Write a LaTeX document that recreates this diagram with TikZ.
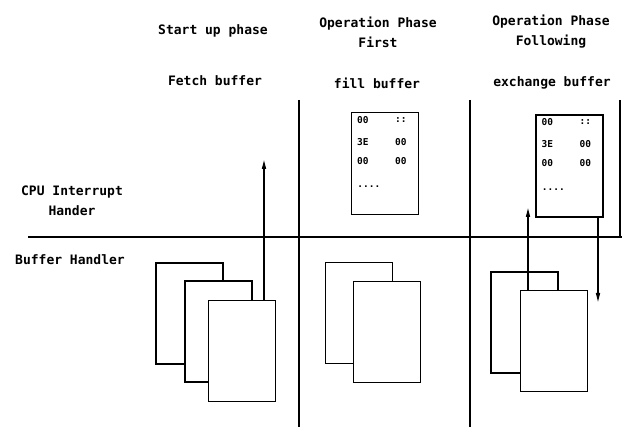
\documentclass[tikz,border=0pt]{standalone}
\usepackage{fontspec}
\newfontfamily\plotfont{DejaVu Sans Mono}
\usetikzlibrary{arrows.meta,positioning,calc}

\begin{document}
\begin{tikzpicture}[x=1pt,y=-1pt,
  heading/.style={font=\plotfont\bfseries\fontsize{13}{20}\selectfont, inner sep=0pt, align=center},
  buffer/.style={draw, fill=white, line width=1.3pt, minimum width=67pt, minimum height=101pt, inner sep=0pt},
  memory/.style={draw, line width=1.3pt, minimum width=67pt, minimum height=102pt, inner sep=0pt},
  cell/.style={font=\plotfont\bfseries\fontsize{9.5}{12}\selectfont, inner sep=0pt},
  divider/.style={line width=1.3pt},
  arrow/.style={-{Triangle[length=9pt,width=4pt]}, line width=1.3pt}
]
\useasboundingbox (0,0) rectangle (625,427);

% column headings
\node[heading] (h1) at (213,31) {Start up phase};
\node[heading] (h2) at (378,32) {Operation Phase\\First};
\node[heading] (h3) at (551,32) {Operation Phase\\Following};
\node[heading] (t1) at (215,81) {Fetch buffer};
\node[heading] (t2) at (377,83) {fill buffer};
\node[heading] (t3) at (552,83) {exchange buffer};

% row headings
\node[heading] (cpu) at (72,201) {CPU Interrupt\\Hander};
\node[heading] (bh) at (70,260) {Buffer Handler};

% grid
\draw[divider] (28,237) -- (622,237);
\draw[divider] (299,100) -- (299,427);
\draw[divider] (470,100) -- (470,427);
\draw[divider] (620,100) -- (620,237);

% memory images
\node[memory] (m1) at (385,163.5) {};
\node[memory] (m2) at (569.5,166) {};
\foreach \m in {m1,m2} {
  \node[cell] (\m-a1) at ($(\m.north west)+(12,8)$) {00};
  \node[cell] (\m-a2) at ($(\m.north west)+(50,8)$) {::};
  \node[cell] (\m-b1) at ($(\m.north west)+(12,30)$) {3E};
  \node[cell] (\m-b2) at ($(\m.north west)+(50,30)$) {00};
  \node[cell] (\m-c1) at ($(\m.north west)+(12,49)$) {00};
  \node[cell] (\m-c2) at ($(\m.north west)+(50,49)$) {00};
  \node[cell] (\m-d1) at ($(\m.north west)+(18,75)$) {....};
}

% buffer stacks
\node[buffer] (b1) at (189.5,313.5) {};
\node[buffer] (b2) at ($(b1)+(29,18)$) {};
\node[buffer] (b3) at ($(b2)+(23.5,19.5)$) {};

\node[buffer] (p1) at (359,313) {};
\node[buffer] (p2) at ($(p1)+(28,19)$) {};

\node[buffer] (q1) at (524.5,322.5) {};
\node[buffer] (q2) at ($(q1)+(29.5,18.5)$) {};

% transfers
\coordinate (up1) at (264,160);
\coordinate (up3) at (528,208);
\coordinate (down3) at (598,302);
\draw[arrow] (b3.north -| up1) -- (up1);
\draw[arrow] (q2.north -| up3) -- (up3);
\draw[arrow] (m2.south -| down3) -- (down3);
\end{tikzpicture}
\end{document}
